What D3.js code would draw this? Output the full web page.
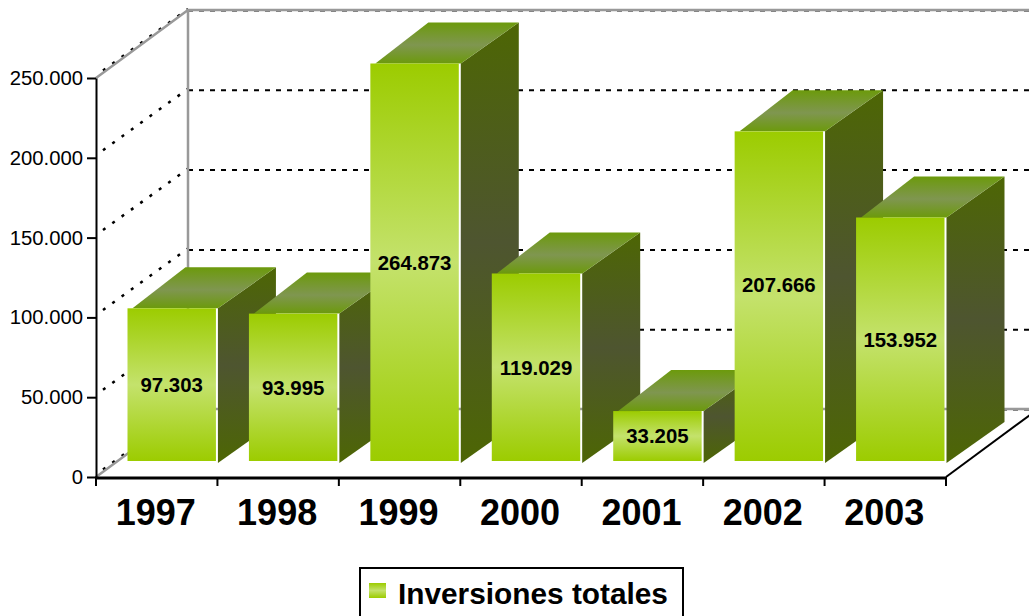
<!DOCTYPE html>
<html>
<head>
<meta charset="utf-8">
<script src="https://d3js.org/d3.v7.min.js"></script>
<style>
    body { margin: 0; background: #fff; overflow: hidden; }
    text { font-family: "Liberation Sans", Arial, sans-serif; fill: #000; }
</style>
</head>
<body>
<svg id="chart" width="1029" height="616"></svg>
<script>
const years = ["1997", "1998", "1999", "2000", "2001", "2002", "2003"];
const inversiones = [97303, 93995, 264873, 119029, 33205, 207666, 153952];
const yTicks = [0, 50000, 100000, 150000, 200000, 250000];
const serieName = "Inversiones totales";

const w = 1029, h = 616;
const left = 96, right = 946, base = 477, top3d = 78;
const depthX = 92, depthY = 68;      // wall depth
const barDX = 58, barDY = 41;        // bar depth
const barBottom = 461;

const fmt = d3.formatLocale({decimal: ",", thousands: ".", grouping: [3], currency: ["", ""]}).format(",d");

const svg = d3.select("#chart");
const defs = svg.append("defs");

function gradient(id, stops) {
    const g = defs.append("linearGradient").attr("id", id)
        .attr("x1", 0).attr("y1", 0).attr("x2", 0).attr("y2", 1);
    stops.forEach(s => g.append("stop").attr("offset", s[0]).attr("stop-color", s[1]));
}
gradient("front", [[0, "#9ccc00"], [0.5, "#c4e26c"], [1, "#9ccc00"]]);
gradient("side", [[0, "#4d6604"], [0.5, "#4e5530"], [1, "#4d6604"]]);
gradient("topf", [[0, "#6c9a0c"], [0.55, "#7f9650"], [1, "#6c9a0c"]]);

const x = d3.scaleBand().domain(years).range([left, right]);
const y = d3.scaleLinear().domain([0, 250000]).range([base, top3d]);
// bars stand in front of the axis plane, and get cut off at the axis max
const yBar = d3.scaleLinear().domain([0, 250000]).range([464.3, 63.5]).clamp(true);

// walls
const grid = svg.append("g");
yTicks.forEach(t => {
    const yy = y(t);
    grid.append("line")
        .attr("x1", left + 7).attr("y1", yy - 7.5)
        .attr("x2", left + depthX).attr("y2", yy - depthY - 1)
        .attr("stroke", "#000").attr("stroke-width", 2.5)
        .attr("stroke-dasharray", "3 8.5");
    grid.append("line")
        .attr("x1", left + depthX).attr("y1", yy - depthY + 0.5)
        .attr("x2", w).attr("y2", yy - depthY + 0.5)
        .attr("stroke", "#000").attr("stroke-width", 2)
        .attr("stroke-dasharray", "5 6");
});

const wall = svg.append("g").attr("fill", "none").attr("stroke", "#999").attr("stroke-width", 2.5);
wall.append("path").attr("d", `M${left},${y(250000)}L${left + depthX},${y(250000) - depthY}L${w},${y(250000) - depthY}`);
wall.append("path").attr("d", `M${left},${base}L${left + depthX},${base - depthY}L${w},${base - depthY}`);
wall.append("path").attr("d", `M${left + depthX},${y(250000) - depthY}V${base - depthY}`);

// floor front edge on the right
svg.append("line")
    .attr("x1", right).attr("y1", base)
    .attr("x2", right + depthX).attr("y2", base - depthY)
    .attr("stroke", "#000").attr("stroke-width", 2);

// bars, left to right so that each one covers the side of the one before
const bars = svg.selectAll("g.bar")
    .data(years.map((d, i) => ({year: d, value: inversiones[i]})))
    .enter().append("g").attr("class", "bar");

const bx = d => x(d.year) + 31.5;
const bw = x.bandwidth() - 33;
const sx = d => bx(d) + bw + 2;

bars.append("path")
    .attr("fill", "url(#side)")
    .attr("d", d => `M${sx(d)},${yBar(d.value)}L${sx(d) + barDX},${yBar(d.value) - barDY}` +
        `V${barBottom + 2 - barDY}L${sx(d)},${barBottom + 2}Z`);
bars.append("path")
    .attr("fill", "url(#topf)")
    .attr("d", d => `M${bx(d) + 5},${yBar(d.value)}L${bx(d) + barDX},${yBar(d.value) - barDY}` +
        `H${sx(d) + barDX}L${sx(d)},${yBar(d.value)}Z`);
bars.append("rect")
    .attr("fill", "url(#front)")
    .attr("x", bx).attr("y", d => yBar(d.value))
    .attr("width", bw).attr("height", d => barBottom - yBar(d.value));
// the 2002 label sits higher than the middle of its bar
bars.append("text")
    .attr("x", d => bx(d) + bw / 2)
    .attr("y", d => (yBar(d.value) + barBottom) / 2 - (d.year === "2002" ? 12 : 0))
    .attr("dy", "0.36em")
    .attr("text-anchor", "middle")
    .attr("font-size", 20.4).attr("font-weight", "bold")
    .text(d => fmt(d.value));

// axes
const yAxis = svg.append("g").attr("transform", `translate(${left},0)`)
    .call(d3.axisLeft(y).tickValues(yTicks).tickFormat(fmt).tickSize(9).tickSizeOuter(0));
yAxis.selectAll("path, line").attr("stroke", "#000").attr("stroke-width", 2);
yAxis.selectAll("text").attr("font-size", 20.3).attr("font-family", null).attr("x", -13);

const xAxis = svg.append("g").attr("transform", `translate(-1,${base + 1})`)
    .call(d3.axisBottom(x).tickSize(0));
xAxis.selectAll("path").attr("stroke", "none");
xAxis.selectAll("text").attr("font-size", 36).attr("font-weight", "bold").attr("font-family", null).attr("y", 21);
xAxis.selectAll("g.tick line").remove();

svg.append("line")
    .attr("x1", left - 1).attr("x2", right + 1)
    .attr("y1", base + 1).attr("y2", base + 1)
    .attr("stroke", "#000").attr("stroke-width", 3);

const edges = x.domain().map(d => x(d)).concat([right]);
svg.append("g").selectAll("line").data(edges).enter().append("line")
    .attr("x1", d => d).attr("x2", d => d)
    .attr("y1", base).attr("y2", base + 9)
    .attr("stroke", "#000").attr("stroke-width", 2);

// legend
const legend = svg.append("g");
legend.append("rect")
    .attr("x", 360).attr("y", 568).attr("width", 323).attr("height", 60)
    .attr("fill", "#fff").attr("stroke", "#000").attr("stroke-width", 2);
legend.append("rect")
    .attr("x", 369).attr("y", 583).attr("width", 17).attr("height", 15)
    .attr("fill", "url(#front)");
legend.append("text")
    .attr("x", 398).attr("y", 604)
    .attr("font-size", 29.8).attr("font-weight", "bold")
    .text(serieName);
</script>
</body>
</html>
